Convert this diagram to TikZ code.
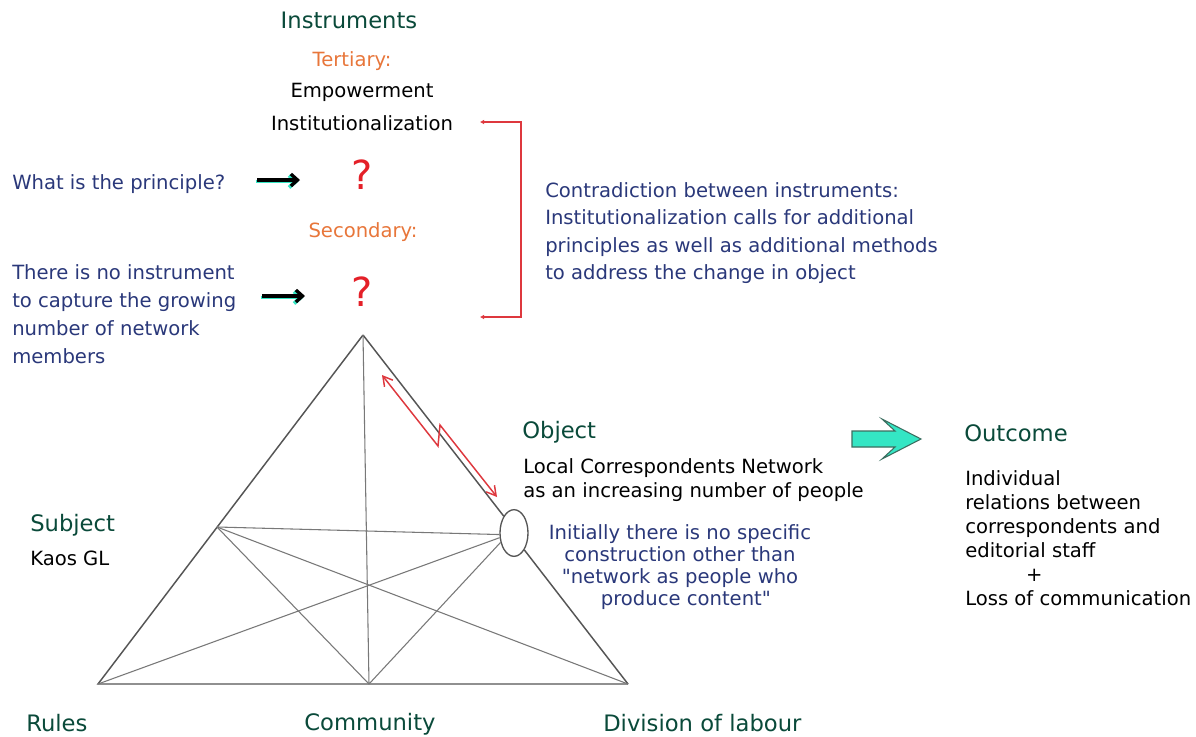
\documentclass[tikz,border=0pt]{standalone}
\usepackage{fontspec}
\setmainfont{DejaVu Sans}
\usetikzlibrary{arrows.meta,shapes.geometric}
\definecolor{headgreen}{RGB}{10,74,58}
\definecolor{lvlorange}{RGB}{232,118,58}
\definecolor{notenavy}{RGB}{42,56,122}
\definecolor{qred}{RGB}{228,32,40}
\definecolor{brred}{RGB}{222,56,62}
\definecolor{edgegray}{RGB}{85,85,85}
\definecolor{linkgray}{RGB}{120,120,120}
\definecolor{arrowcyan}{RGB}{52,230,196}
\definecolor{arrowrim}{RGB}{60,110,96}
\begin{document}
\begin{tikzpicture}[x=0.75pt,y=-0.75pt,
  headtxt/.style={text=headgreen,font=\fontsize{17}{20}\selectfont,inner sep=0},
  bodytxt/.style={text=black,font=\fontsize{14.7}{18}\selectfont,inner sep=0},
  tiertxt/.style={text=lvlorange,font=\fontsize{14.7}{18}\selectfont,inner sep=0},
  notetxt/.style={text=notenavy,font=\fontsize{14.7}{21}\selectfont,inner sep=0},
  qmark/.style={text=qred,font=\fontsize{30}{31}\selectfont,inner sep=0},
  rimline/.style={draw=edgegray,line width=1.1pt},
  crossline/.style={draw=linkgray,line width=0.8pt},
  pointer/.style={line width=2.5pt,-{Straight Barb[length=5pt,width=9pt]}},
  zigarrow/.style={draw=brred,line width=1.1pt,{Straight Barb[length=7pt,width=8pt]}-{Straight Barb[length=7pt,width=8pt]}},
]
\useasboundingbox[fill=white] (0,0) rectangle (1196,736);

% ---- instruments column ----
\node[headtxt] (instr) at (349,20) {Instruments};
\node[tiertxt] (tert) at (352,61) {Tertiary:};
\node[bodytxt] (empow) at (362,92) {Empowerment};
\node[bodytxt] (inst) at (362,123) {Institutionalization};
\node[qmark] (q1) at (362,175) {?};
\node[tiertxt] (sec) at (363,232) {Secondary:};
\node[qmark] (q2) at (362,292) {?};

% ---- questions on the left ----
\node[notetxt,anchor=west] (princ) at (12,184) {What is the principle?};
\node[notetxt,anchor=west,align=left] (noinst) at (12,314)
  {There is no instrument\\to capture the growing\\number of network\\members};

\coordinate (p1s) at (257,180); \coordinate (p1e) at (300,180);
\coordinate (p2s) at (262,296); \coordinate (p2e) at (305,296);
\draw[pointer,arrowcyan,line width=2.8pt] ([shift={(-1.5,1.5)}]p1s) -- ([shift={(-1.5,1.5)}]p1e);
\draw[pointer,black] (p1s) -- (p1e);
\draw[pointer,arrowcyan,line width=2.8pt] ([shift={(-1.5,1.5)}]p2s) -- ([shift={(-1.5,1.5)}]p2e);
\draw[pointer,black] (p2s) -- (p2e);

% ---- contradiction bracket ----
\coordinate (bt) at (480,122); \coordinate (bb) at (480,317);
\draw[draw=brred,line width=1.2pt,{Latex[length=3pt,width=3.5pt]}-{Latex[length=3pt,width=3.5pt]}]
  (bt) -- (521,122) -- (521,317) -- (bb);
\node[notetxt,anchor=west,align=left,font=\fontsize{14.7}{20.6}\selectfont] (contra) at (545,233)
  {Contradiction between instruments:\\Institutionalization calls for additional\\principles as well as additional methods\\to address the change in object};

% ---- activity triangle ----
\coordinate (apex) at (363,335);
\coordinate (bl) at (98,684);
\coordinate (bm) at (369,684);
\coordinate (br) at (628,684);
\coordinate (sl) at (217,527);
\node[draw=edgegray,line width=1pt,ellipse,minimum width=21pt,minimum height=35pt,inner sep=0,fill=white] (obj) at (514,533) {};

\draw[rimline] (apex) -- (bl) -- (br);
\draw[rimline] (apex) -- (obj.north west);
\draw[rimline] (obj.south east) -- (br);
\draw[crossline] (apex) -- (bm);
\draw[crossline] (sl) -- (obj.186);
\draw[crossline] (sl) -- (bm);
\draw[crossline] (sl) -- (br);
\draw[crossline] (bl) -- (obj.198);
\draw[crossline] (bm) -- (obj.215);

% lightning arrow between instrument and object
\coordinate (za) at (382,375); \coordinate (zd) at (497,497);
\draw[zigarrow] (za) -- (438,446) -- (440,425) -- (zd);

% ---- corner labels ----
\node[headtxt,anchor=west] (objh) at (522,432) {Object};
\node[bodytxt,anchor=west,align=left,font=\fontsize{14.7}{18}\selectfont] (objt) at (523,480)
  {Local Correspondents Network\\as an increasing number of people};
\node[notetxt,align=center,font=\fontsize{14.7}{16.5}\selectfont] (init) at (680,567)
  {Initially there is no specific\\construction other than\\\textquotedbl network as people who\\\hspace*{0.6em}produce content\textquotedbl};

\node[headtxt,anchor=west] (subj) at (30,525) {Subject};
\node[bodytxt,anchor=west] (kaos) at (30,558) {Kaos GL};
\node[headtxt,anchor=west] (rules) at (26,723) {Rules};
\node[headtxt] (comm) at (370,724) {Community};
\node[headtxt,anchor=west] (divl) at (603,723) {Division of labour};

% ---- outcome ----
\path[draw=arrowrim,fill=arrowcyan,line width=0.8pt]
  (852,431) -- (895,431) -- (882,419) -- (921,439) -- (882,459) -- (895,447) -- (852,447) -- cycle;
\node[headtxt,anchor=west] (outh) at (964,433) {Outcome};
\node[bodytxt,anchor=west,align=left,font=\fontsize{14.7}{18}\selectfont] (outt) at (965,538)
  {Individual\\relations between\\correspondents and\\editorial staff\\\hspace*{3.1em}+\\Loss of communication};
\end{tikzpicture}
\end{document}
